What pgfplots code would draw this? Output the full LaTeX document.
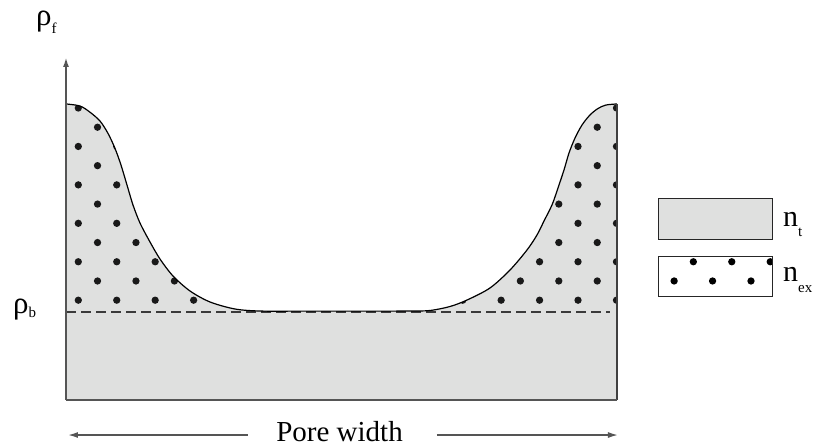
\documentclass[border=0pt]{standalone}
\usepackage{pgfplots}
\pgfplotsset{compat=1.18}
\usepackage{pgfplotstable}
\usepgfplotslibrary{fillbetween}
\usetikzlibrary{patterns,arrows.meta}
\usepackage{fontspec}
\setmainfont{Liberation Serif}
\definecolor{lgray}{HTML}{DFE0DF}
\definecolor{axgray}{HTML}{555555}
\definecolor{dashgray}{HTML}{3A3A3A}
\pgfdeclarepatternformonly{bigdots}{\pgfqpoint{-12pt}{-12pt}}{\pgfqpoint{26.44pt}{26.44pt}}{\pgfqpoint{38.44pt}{38.44pt}}{%
  \pgfpathcircle{\pgfqpoint{1.42pt}{-6.96pt}}{3.65pt}%
  \pgfpathcircle{\pgfqpoint{20.64pt}{12.26pt}}{3.65pt}%
  \pgfusepath{fill}}

\pgfplotstableread{
x y
0.0000 3.364
0.0254 3.341
0.0436 3.270
0.0617 3.170
0.0762 3.030
0.0889 2.860
0.0998 2.670
0.1107 2.443
0.1216 2.216
0.1343 2.011
0.1525 1.795
0.1706 1.602
0.1942 1.409
0.2250 1.239
0.2613 1.114
0.3067 1.034
0.3521 1.011
0.4247 1.010
0.4973 1.010
0.5699 1.010
0.6243 1.011
0.6606 1.017
0.6969 1.0625
0.7278 1.136
0.7695 1.273
0.8058 1.477
0.8367 1.705
0.8548 1.875
0.8675 2.034
0.8820 2.216
0.8929 2.409
0.9038 2.614
0.9129 2.807
0.9238 2.977
0.9365 3.125
0.9510 3.239
0.9655 3.3125
0.9800 3.352
1.0000 3.364
}\curvedata

\begin{document}
\begin{tikzpicture}
\begin{axis}[
  at={(66pt,47pt)}, anchor=south west,
  x=551pt, y=88pt,
  xmin=0, xmax=1, ymin=0, ymax=3.898,
  axis x line=bottom, axis y line=left,
  x axis line style={-, line width=2pt, draw=axgray},
  y axis line style={-{Latex[length=10pt,width=6pt]}, line width=2pt, draw=axgray},
  xtick=\empty, ytick=\empty,
  clip=false, axis on top,
  legend style={at={(axis description cs:1.0744,0.5888)}, anchor=north west,
    draw=none, fill=none, inner sep=0pt, outer sep=0pt,
    row sep=15.5pt, column sep=0pt,
    nodes={inner sep=0pt, outer sep=0pt},
    font=\fontsize{30}{32}\selectfont},
  legend cell align=left,
]
\addlegendimage{legend image code/.code={\draw[fill=lgray,draw=black!85,line width=1.2pt] (0pt,-20.5pt) rectangle (114pt,20.5pt);}}
\addlegendentry{\hspace*{10pt}\raisebox{-8.5pt}[0pt][0pt]{n\raisebox{-10pt}{\fontsize{15}{15}\selectfont t}}}
\addlegendimage{legend image code/.code={\draw[pattern=bigdots,draw=black!85,line width=1.2pt] (0pt,-20pt) rectangle (114pt,20pt);}}
\addlegendentry{\hspace*{10pt}\raisebox{-6pt}[0pt][0pt]{n\raisebox{-11pt}{\fontsize{15}{15}\selectfont ex}}}

\addplot[name path=curve, draw=none, smooth, forget plot] table[x=x,y=y] {\curvedata};
\addplot[name path=bottom, draw=none, forget plot] coordinates {(0,0) (1,0)};
\addplot[name path=base, draw=none, forget plot] coordinates {(0,1) (1,1)};
\addplot[fill=lgray, draw=none, forget plot] fill between[of=curve and bottom];
\addplot[pattern=bigdots, pattern color=black!90, draw=none, forget plot] fill between[of=curve and base];
\addplot[dashgray, line width=1.3pt, dash pattern=on 10pt off 5pt, forget plot] coordinates {(0,1) (0.987,1)};
\addplot[black, line width=1.2pt, smooth, forget plot] table[x=x,y=y] {\curvedata};
\addplot[black!75, line width=1.5pt, forget plot] coordinates {(1,0) (1,3.364)};

\node[anchor=base west, inner sep=0pt, font=\fontsize{31}{33}\selectfont] at (axis cs:-0.0544,4.25) {ρ\raisebox{-7.5pt}{\fontsize{15}{15}\selectfont f}};
\node[anchor=base west, inner sep=0pt, font=\fontsize{31}{33}\selectfont] at (axis cs:-0.0962,0.983) {ρ\raisebox{-4.5pt}{\fontsize{15}{15}\selectfont b}};
\node[anchor=base, inner sep=0pt, font=\fontsize{29}{32}\selectfont] at (axis cs:0.4964,-0.477) {Pore width};
\draw[-{Latex[length=10pt,width=6pt]}, line width=1.5pt, axgray] (axis cs:0.3303,-0.398) -- (axis cs:0.0036,-0.398);
\draw[-{Latex[length=10pt,width=6pt]}, line width=1.5pt, axgray] (axis cs:0.6733,-0.398) -- (axis cs:1.0018,-0.398);
\end{axis}
\pgfresetboundingbox
\useasboundingbox (0,0) rectangle (814pt,447pt);
\end{tikzpicture}
\end{document}
